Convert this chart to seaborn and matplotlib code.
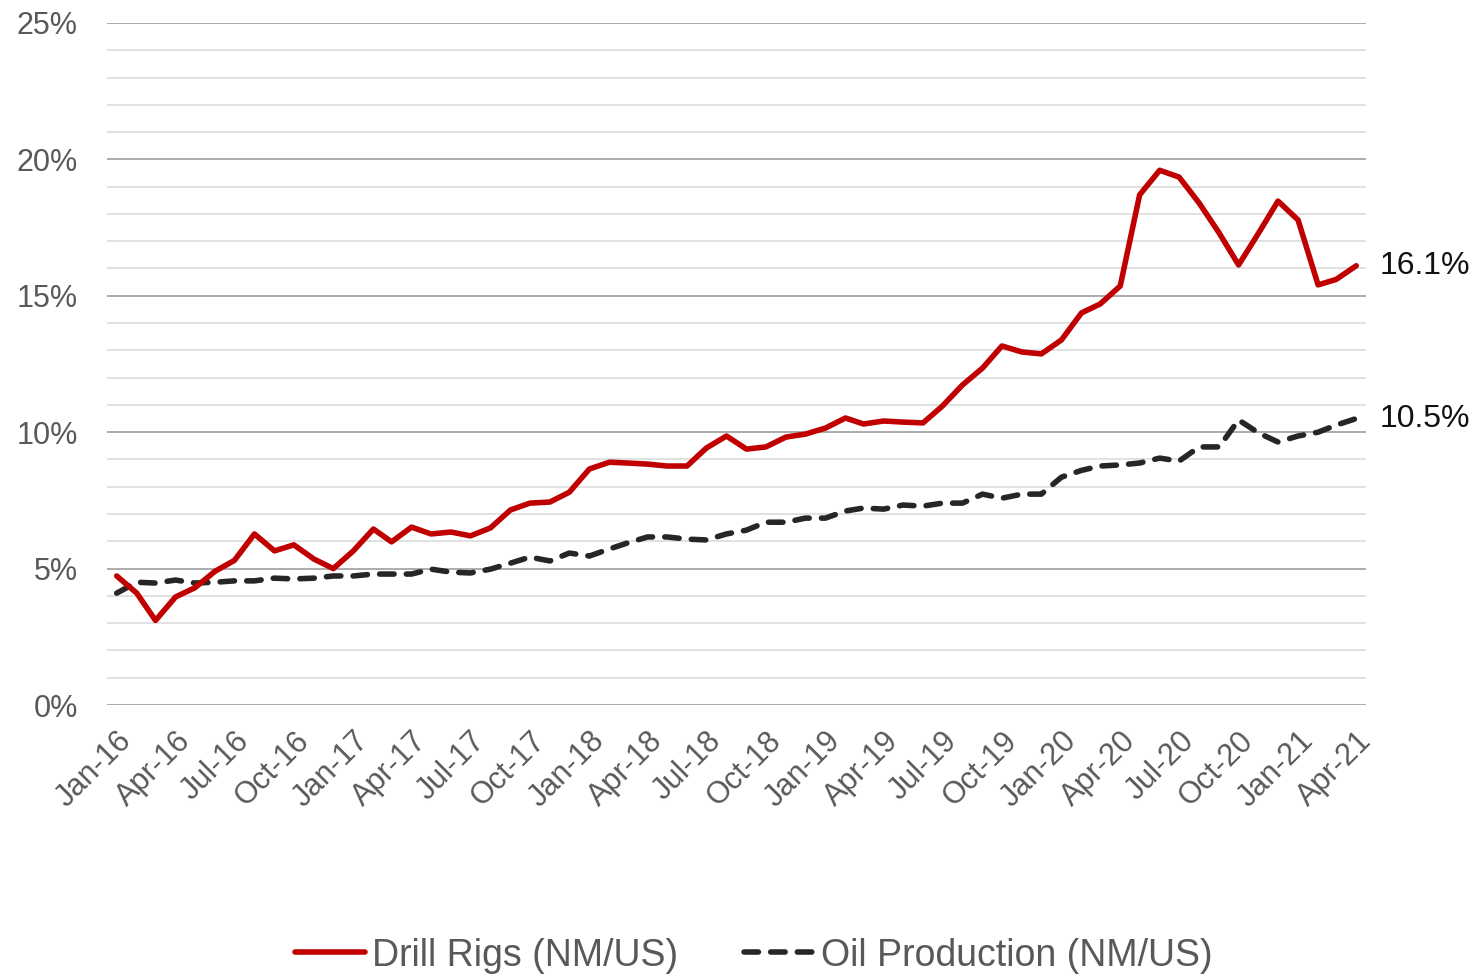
import pandas as pd
import seaborn as sns
import matplotlib.pyplot as plt
import matplotlib.ticker as mtick

# monthly shares, New Mexico / US (%)
months = pd.date_range("2016-01-01", "2021-04-01", freq="MS")
drill_rigs = [4.73, 4.1, 3.1, 3.96, 4.3, 4.9, 5.3, 6.27, 5.65, 5.87, 5.35, 5.0,
              5.65, 6.45, 5.98, 6.52, 6.27, 6.34, 6.2, 6.49, 7.15, 7.4, 7.44, 7.8,
              8.65, 8.9, 8.87, 8.83, 8.76, 8.76, 9.42, 9.86, 9.38, 9.46, 9.82, 9.93,
              10.15, 10.52, 10.3, 10.41, 10.37, 10.34, 10.96, 11.73, 12.35, 13.16, 12.94, 12.87,
              13.38, 14.37, 14.7, 15.36, 18.7, 19.6, 19.35, 18.4, 17.3, 16.13, 17.3, 18.47,
              17.78, 15.4, 15.6, 16.1]
oil_production = [4.1, 4.5, 4.47, 4.58, 4.47, 4.5, 4.55, 4.55, 4.65, 4.62, 4.65, 4.73,
                  4.73, 4.8, 4.8, 4.8, 4.98, 4.87, 4.84, 4.98, 5.2, 5.42, 5.28, 5.57,
                  5.46, 5.72, 5.94, 6.16, 6.16, 6.08, 6.05, 6.27, 6.41, 6.7, 6.7, 6.85,
                  6.85, 7.11, 7.22, 7.18, 7.33, 7.29, 7.4, 7.4, 7.73, 7.58, 7.73, 7.73,
                  8.35, 8.6, 8.76, 8.8, 8.87, 9.05, 8.94, 9.46, 9.46, 10.45, 9.97, 9.64,
                  9.86, 10.0, 10.26, 10.5]
series_names = ["Drill Rigs (NM/US)", "Oil Production (NM/US)"]
tick_months = months[::3]
tick_labels = [m.strftime("%b-%y") for m in tick_months]

df = pd.DataFrame({
    "Month": list(months) * 2,
    "Share": drill_rigs + oil_production,
    "Series": [series_names[0]] * len(months) + [series_names[1]] * len(months),
})

sns.set_style("white")
plt.rcParams["font.family"] = ["Liberation Sans", "DejaVu Sans"]

fig = plt.figure(figsize=(14.74, 9.77), dpi=100)
ax = fig.add_axes([0.0726, 0.2784, 0.8541, 0.6981])

dash = (2.6, 2.2)
sns.lineplot(data=df, x="Month", y="Share", hue="Series", style="Series",
             palette={series_names[0]: "#C00000", series_names[1]: "#262626"},
             dashes={series_names[0]: "", series_names[1]: dash},
             hue_order=series_names[::-1], style_order=series_names[::-1],
             linewidth=4, ax=ax, legend=False)
for line in ax.lines:
    line.set_dash_capstyle("round")
    line.set_solid_joinstyle("round")
    line.set_solid_capstyle("round")

ax.set_ylim(0, 25)
ax.set_xlim(months[0] - pd.Timedelta(days=15), months[-1] + pd.Timedelta(days=15))
ax.yaxis.set_major_locator(mtick.MultipleLocator(5))
ax.yaxis.set_minor_locator(mtick.MultipleLocator(1))
ax.yaxis.set_major_formatter(mtick.PercentFormatter(decimals=0))
ax.grid(axis="y", which="major", color="#A6A6A6", linewidth=1.3, zorder=0)
ax.grid(axis="y", which="minor", color="#D9D9D9", linewidth=1.1, zorder=0)
ax.set_axisbelow(True)
for s in ax.spines.values():
    s.set_visible(False)

ax.set_xticks(tick_months)
ax.set_xticklabels(tick_labels, rotation=45, ha="right", va="top", rotation_mode="anchor")
ax.tick_params(axis="both", which="both", length=0, labelsize=22, labelcolor="#595959")
ax.tick_params(axis="y", pad=21)
ax.tick_params(axis="x", pad=15)
ax.set_xlabel("")
ax.set_ylabel("")

# end labels
for vals in (drill_rigs, oil_production):
    ax.annotate(f"{vals[-1]:.1f}%", xy=(months[-1], vals[-1]), xytext=(17, 0),
                textcoords="offset points", va="center", ha="left",
                fontsize=23, color="#111111", annotation_clip=False)

handles = [plt.Line2D([], [], color="#C00000", lw=4, solid_capstyle="round"),
           plt.Line2D([], [], color="#262626", lw=4, ls=(0, dash), dash_capstyle="round")]
leg = fig.legend(handles, series_names, loc="center", bbox_to_anchor=(0.5115, 0.022),
                 ncol=2, frameon=False, fontsize=27, handlelength=1.85,
                 handletextpad=0.2, columnspacing=1.75)
for t in leg.get_texts():
    t.set_color("#595959")

fig.savefig("out.png", dpi=100)
